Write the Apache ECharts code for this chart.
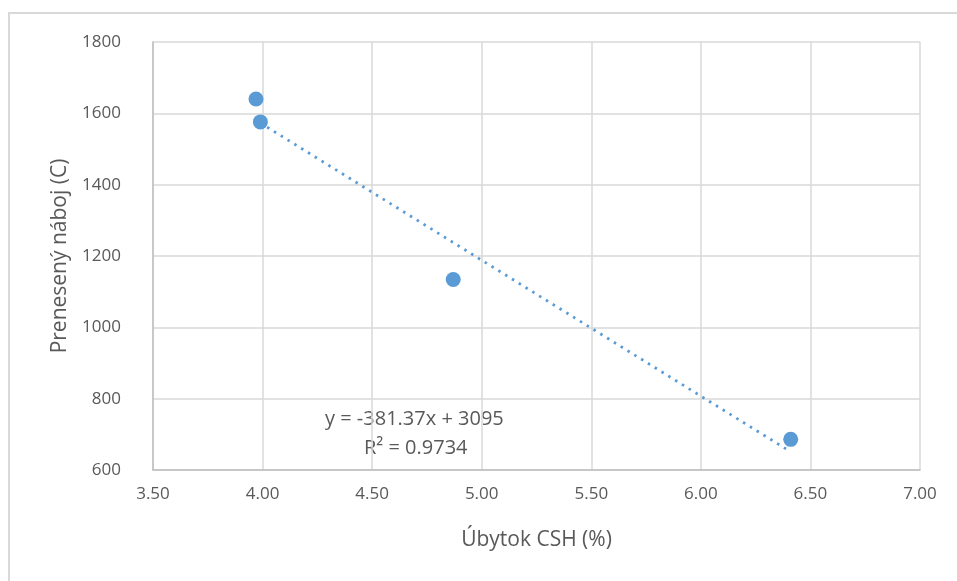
<!DOCTYPE html>
<html>
<head>
<meta charset="utf-8">
<script src="https://cdn.jsdelivr.net/npm/echarts@6/dist/echarts.min.js"></script>
<style>
  html, body { margin: 0; padding: 0; background: #fff; }
  #chart { width: 957px; height: 581px; }
</style>
</head>
<body>
<div id="chart"></div>
<script>
// body: data
const ubytokCSH = [3.97, 3.99, 4.87, 6.41];
const prenesenyNaboj = [1640, 1576, 1134, 686];
// trendline endpoints (linear fit shown on chart)
const trendX = [3.99, 6.41];
const trendY = [1573, 651];
const equationText = 'y = -381.37x + 3095';
const r2Text = 'R² = 0.9734';

const fontFam = '"Open Sans", "Liberation Sans", sans-serif';
const textColor = '#595959';

let chart = echarts.init(document.getElementById('chart'), null, { renderer: 'canvas' });

let option = {
  animation: false,
  backgroundColor: '#fff',
  grid: { left: 153, right: 37, top: 42, bottom: 111 },
  xAxis: {
    type: 'value',
    min: 3.5, max: 7, interval: 0.5,
    name: 'Úbytok CSH (%)',
    nameLocation: 'middle',
    nameGap: 60,
    nameTextStyle: { color: textColor, fontSize: 21, fontFamily: fontFam },
    axisLine: { show: true, lineStyle: { color: '#bfbfbf', width: 1.5 } },
    axisTick: { show: false },
    axisLabel: {
      color: textColor, fontSize: 17, fontFamily: fontFam, margin: 16,
      formatter: v => v.toFixed(2)
    },
    splitLine: { show: true, lineStyle: { color: '#d9d9d9', width: 1.5 } }
  },
  yAxis: {
    type: 'value',
    min: 600, max: 1800, interval: 200,
    name: 'Prenesený náboj (C)',
    nameLocation: 'middle',
    nameGap: 82,
    nameTextStyle: { color: textColor, fontSize: 21, fontFamily: fontFam },
    axisLine: { show: true, lineStyle: { color: '#bfbfbf', width: 1.5 } },
    axisTick: { show: false },
    axisLabel: {
      color: textColor, fontSize: 17, fontFamily: fontFam, margin: 32,
      formatter: v => String(v)
    },
    splitLine: { show: true, lineStyle: { color: '#d9d9d9', width: 1.5 } }
  },
  graphic: [
    {
      type: 'rect', silent: true, z: -1,
      shape: { x: 9, y: 13, width: 960, height: 600 },
      style: { fill: 'none', stroke: '#d9d9d9', lineWidth: 2 }
    },
    {
      type: 'text', left: 325, top: 409,
      style: { text: equationText, fill: textColor, fontSize: 20, fontFamily: fontFam }
    },
    {
      type: 'text', left: 364, top: 438,
      style: { text: r2Text, fill: textColor, fontSize: 20, fontFamily: fontFam }
    }
  ],
  series: [
    {
      type: 'line',
      data: trendX.map((x, i) => [x, trendY[i]]),
      showSymbol: false,
      lineStyle: { color: '#5b9bd5', width: 2.8, type: [2.5, 5.5] },
      z: 2
    },
    {
      type: 'scatter',
      data: ubytokCSH.map((x, i) => [x, prenesenyNaboj[i]]),
      symbolSize: 15,
      itemStyle: { color: '#5b9bd5', opacity: 1 },
      z: 3
    }
  ]
};

chart.setOption(option);
</script>
</body>
</html>
